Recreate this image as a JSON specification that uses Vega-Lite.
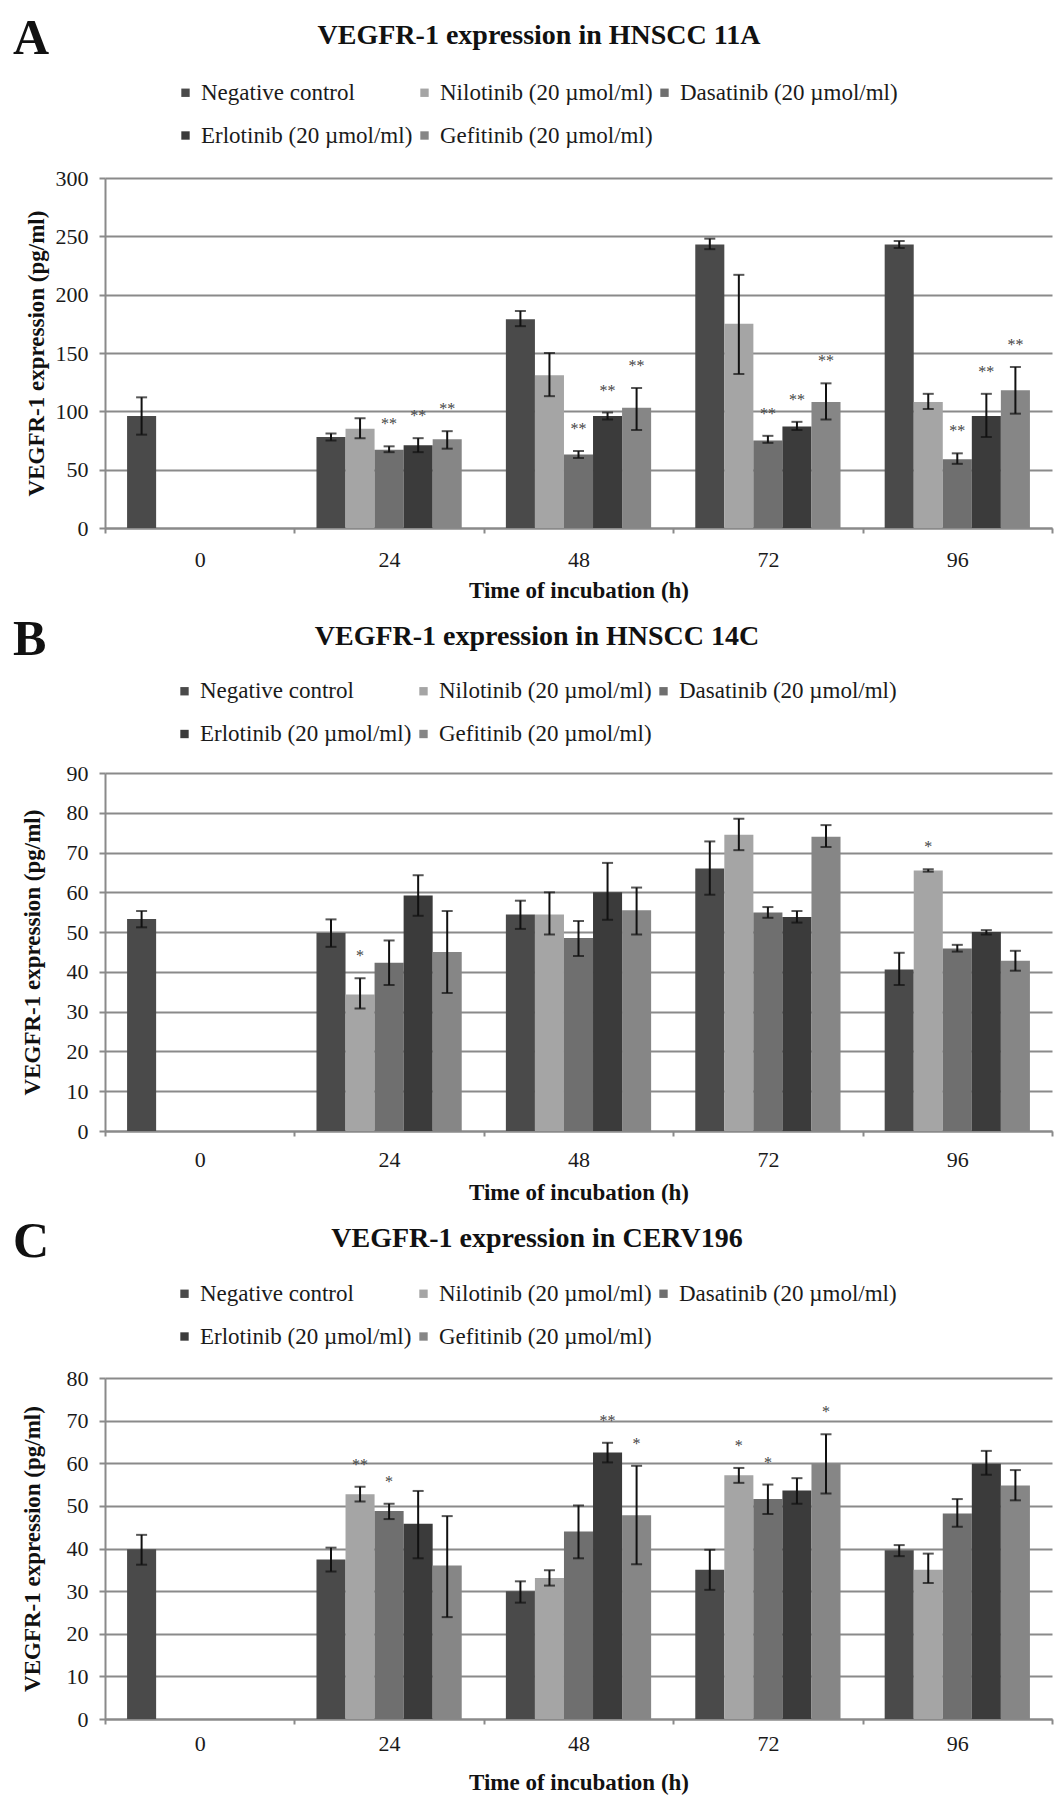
{
  "$schema": "https://vega.github.io/schema/vega-lite/v6.json",
  "padding": {"left": 13, "top": 14, "right": 5, "bottom": 5},
  "spacing": 12,
  "resolve": {"scale": {"color": "independent", "y": "independent", "x": "independent"}, "legend": {"color": "independent"}},
  "datasets": {
    "A": [
      {"time": "0", "drug": "Negative control", "value": 96, "lo": 80, "hi": 112, "sig": ""},
      {"time": "24", "drug": "Negative control", "value": 78, "lo": 75, "hi": 81, "sig": ""},
      {"time": "24", "drug": "Nilotinib (20 µmol/ml)", "value": 85, "lo": 77, "hi": 94, "sig": ""},
      {"time": "24", "drug": "Dasatinib (20 µmol/ml)", "value": 67, "lo": 65, "hi": 70, "sig": "**"},
      {"time": "24", "drug": "Erlotinib (20 µmol/ml)", "value": 71, "lo": 65, "hi": 77, "sig": "**"},
      {"time": "24", "drug": "Gefitinib (20 µmol/ml)", "value": 76, "lo": 68, "hi": 83, "sig": "**"},
      {"time": "48", "drug": "Negative control", "value": 179, "lo": 173, "hi": 186, "sig": ""},
      {"time": "48", "drug": "Nilotinib (20 µmol/ml)", "value": 131, "lo": 113, "hi": 150, "sig": ""},
      {"time": "48", "drug": "Dasatinib (20 µmol/ml)", "value": 63, "lo": 60, "hi": 66, "sig": "**"},
      {"time": "48", "drug": "Erlotinib (20 µmol/ml)", "value": 96, "lo": 93, "hi": 99, "sig": "**"},
      {"time": "48", "drug": "Gefitinib (20 µmol/ml)", "value": 103, "lo": 84, "hi": 120, "sig": "**"},
      {"time": "72", "drug": "Negative control", "value": 243, "lo": 239, "hi": 248, "sig": ""},
      {"time": "72", "drug": "Nilotinib (20 µmol/ml)", "value": 175, "lo": 132, "hi": 217, "sig": ""},
      {"time": "72", "drug": "Dasatinib (20 µmol/ml)", "value": 75, "lo": 73, "hi": 79, "sig": "**"},
      {"time": "72", "drug": "Erlotinib (20 µmol/ml)", "value": 87, "lo": 84, "hi": 91, "sig": "**"},
      {"time": "72", "drug": "Gefitinib (20 µmol/ml)", "value": 108, "lo": 93, "hi": 124, "sig": "**"},
      {"time": "96", "drug": "Negative control", "value": 243, "lo": 240, "hi": 246, "sig": ""},
      {"time": "96", "drug": "Nilotinib (20 µmol/ml)", "value": 108, "lo": 102, "hi": 115, "sig": ""},
      {"time": "96", "drug": "Dasatinib (20 µmol/ml)", "value": 59, "lo": 55, "hi": 64, "sig": "**"},
      {"time": "96", "drug": "Erlotinib (20 µmol/ml)", "value": 96, "lo": 78, "hi": 115, "sig": "**"},
      {"time": "96", "drug": "Gefitinib (20 µmol/ml)", "value": 118, "lo": 98, "hi": 138, "sig": "**"}
    ],
    "B": [
      {"time": "0", "drug": "Negative control", "value": 53.3, "lo": 51.2, "hi": 55.3, "sig": ""},
      {"time": "24", "drug": "Negative control", "value": 49.8, "lo": 46.3, "hi": 53.2, "sig": ""},
      {"time": "24", "drug": "Nilotinib (20 µmol/ml)", "value": 34.3, "lo": 30.8, "hi": 38.4, "sig": "*"},
      {"time": "24", "drug": "Dasatinib (20 µmol/ml)", "value": 42.3, "lo": 36.7, "hi": 47.9, "sig": ""},
      {"time": "24", "drug": "Erlotinib (20 µmol/ml)", "value": 59.2, "lo": 54.1, "hi": 64.3, "sig": ""},
      {"time": "24", "drug": "Gefitinib (20 µmol/ml)", "value": 45, "lo": 34.7, "hi": 55.3, "sig": ""},
      {"time": "48", "drug": "Negative control", "value": 54.4, "lo": 50.8, "hi": 57.9, "sig": ""},
      {"time": "48", "drug": "Nilotinib (20 µmol/ml)", "value": 54.4, "lo": 49.4, "hi": 60, "sig": ""},
      {"time": "48", "drug": "Dasatinib (20 µmol/ml)", "value": 48.5, "lo": 44, "hi": 52.8, "sig": ""},
      {"time": "48", "drug": "Erlotinib (20 µmol/ml)", "value": 60, "lo": 53.1, "hi": 67.4, "sig": ""},
      {"time": "48", "drug": "Gefitinib (20 µmol/ml)", "value": 55.5, "lo": 49.4, "hi": 61.2, "sig": ""},
      {"time": "72", "drug": "Negative control", "value": 66, "lo": 59.4, "hi": 72.8, "sig": ""},
      {"time": "72", "drug": "Nilotinib (20 µmol/ml)", "value": 74.5, "lo": 70.6, "hi": 78.5, "sig": ""},
      {"time": "72", "drug": "Dasatinib (20 µmol/ml)", "value": 54.9, "lo": 53.6, "hi": 56.3, "sig": ""},
      {"time": "72", "drug": "Erlotinib (20 µmol/ml)", "value": 53.8, "lo": 52.4, "hi": 55.3, "sig": ""},
      {"time": "72", "drug": "Gefitinib (20 µmol/ml)", "value": 74, "lo": 71.4, "hi": 76.9, "sig": ""},
      {"time": "96", "drug": "Negative control", "value": 40.6, "lo": 36.7, "hi": 44.8, "sig": ""},
      {"time": "96", "drug": "Nilotinib (20 µmol/ml)", "value": 65.5, "lo": 65.2, "hi": 65.8, "sig": "*"},
      {"time": "96", "drug": "Dasatinib (20 µmol/ml)", "value": 45.9, "lo": 45.1, "hi": 46.8, "sig": ""},
      {"time": "96", "drug": "Erlotinib (20 µmol/ml)", "value": 50, "lo": 49.4, "hi": 50.5, "sig": ""},
      {"time": "96", "drug": "Gefitinib (20 µmol/ml)", "value": 42.8, "lo": 40.3, "hi": 45.3, "sig": ""}
    ],
    "C": [
      {"time": "0", "drug": "Negative control", "value": 39.8, "lo": 36.2, "hi": 43.2, "sig": ""},
      {"time": "24", "drug": "Negative control", "value": 37.4, "lo": 34.6, "hi": 40.2, "sig": ""},
      {"time": "24", "drug": "Nilotinib (20 µmol/ml)", "value": 52.7, "lo": 51, "hi": 54.5, "sig": "**"},
      {"time": "24", "drug": "Dasatinib (20 µmol/ml)", "value": 48.8, "lo": 46.9, "hi": 50.5, "sig": "*"},
      {"time": "24", "drug": "Erlotinib (20 µmol/ml)", "value": 45.8, "lo": 37.7, "hi": 53.5, "sig": ""},
      {"time": "24", "drug": "Gefitinib (20 µmol/ml)", "value": 36, "lo": 23.9, "hi": 47.6, "sig": ""},
      {"time": "48", "drug": "Negative control", "value": 30, "lo": 27.3, "hi": 32.3, "sig": ""},
      {"time": "48", "drug": "Nilotinib (20 µmol/ml)", "value": 33.1, "lo": 31.3, "hi": 34.9, "sig": ""},
      {"time": "48", "drug": "Dasatinib (20 µmol/ml)", "value": 44, "lo": 37.7, "hi": 50.1, "sig": ""},
      {"time": "48", "drug": "Erlotinib (20 µmol/ml)", "value": 62.5, "lo": 60.2, "hi": 64.8, "sig": "**"},
      {"time": "48", "drug": "Gefitinib (20 µmol/ml)", "value": 47.8, "lo": 36.3, "hi": 59.4, "sig": "*"},
      {"time": "72", "drug": "Negative control", "value": 35, "lo": 30.3, "hi": 39.7, "sig": ""},
      {"time": "72", "drug": "Nilotinib (20 µmol/ml)", "value": 57.2, "lo": 55.4, "hi": 58.9, "sig": "*"},
      {"time": "72", "drug": "Dasatinib (20 µmol/ml)", "value": 51.6, "lo": 48.1, "hi": 55, "sig": "*"},
      {"time": "72", "drug": "Erlotinib (20 µmol/ml)", "value": 53.6, "lo": 50.5, "hi": 56.5, "sig": ""},
      {"time": "72", "drug": "Gefitinib (20 µmol/ml)", "value": 59.9, "lo": 52.9, "hi": 66.8, "sig": "*"},
      {"time": "96", "drug": "Negative control", "value": 39.6, "lo": 38.2, "hi": 40.8, "sig": ""},
      {"time": "96", "drug": "Nilotinib (20 µmol/ml)", "value": 35, "lo": 31.9, "hi": 38.8, "sig": ""},
      {"time": "96", "drug": "Dasatinib (20 µmol/ml)", "value": 48.2, "lo": 45.1, "hi": 51.6, "sig": ""},
      {"time": "96", "drug": "Erlotinib (20 µmol/ml)", "value": 59.9, "lo": 57.3, "hi": 62.9, "sig": ""},
      {"time": "96", "drug": "Gefitinib (20 µmol/ml)", "value": 54.8, "lo": 51.3, "hi": 58.4, "sig": ""}
    ]
  },
  "vconcat": [
    {
      "title": {"text": "A", "anchor": "start", "frame": "bounds", "fontSize": 50, "fontWeight": "bold", "dy": 42, "dx": -12, "offset": 0},
      "resolve": {"scale": {"color": "independent"}, "legend": {"color": "independent"}},
      "vconcat": [
        {
          "title": {"text": "VEGFR-1  expression in HNSCC 11A", "anchor": "middle", "frame": "bounds", "fontSize": 28, "fontWeight": "bold", "offset": 31},
          "width": 947,
          "height": 350,
          "data": {"name": "A"},
          "encoding": {
            "x": {"field": "time", "type": "ordinal", "sort": ["0", "24", "48", "72", "96"], "scale": {"paddingInner": 0, "paddingOuter": 0}, "axis": {"title": "Time of incubation (h)", "labelAngle": 0, "tickBand": "extent", "tickSize": 5, "labelPadding": 16, "titlePadding": 9, "grid": false}},
            "xOffset": {"field": "drug", "type": "nominal", "scale": {"domain": ["Negative control", "Nilotinib (20 µmol/ml)", "Dasatinib (20 µmol/ml)", "Erlotinib (20 µmol/ml)", "Gefitinib (20 µmol/ml)"], "paddingInner": 0, "paddingOuter": 0.76}}
          },
          "layer": [
            {
              "mark": {"type": "bar"},
              "encoding": {
                "y": {"field": "value", "type": "quantitative", "title": "VEGFR-1 expression (pg/ml)", "scale": {"domain": [0, 300]}, "axis": {"values": [0, 50, 100, 150, 200, 250, 300], "tickSize": 6, "labelPadding": 11, "titlePadding": 7, "grid": true}},
                "color": {"field": "drug", "type": "nominal", "scale": {"domain": ["Negative control", "Nilotinib (20 µmol/ml)", "Dasatinib (20 µmol/ml)", "Erlotinib (20 µmol/ml)", "Gefitinib (20 µmol/ml)"], "range": ["#4a4a4a", "#a5a5a5", "#6f6f6f", "#3b3b3b", "#868686"]}, "legend": {"orient": "none", "legendX": 69, "legendY": -97, "direction": "horizontal", "columns": 3, "title": null}}
              }
            },
            {
              "mark": {"type": "rule", "color": "#111111", "strokeWidth": 2},
              "encoding": {"y": {"field": "lo", "type": "quantitative", "title": "VEGFR-1 expression (pg/ml)", "axis": {"values": [0, 50, 100, 150, 200, 250, 300], "tickSize": 6, "labelPadding": 11, "titlePadding": 7, "grid": true}}, "y2": {"field": "hi"}}
            },
            {
              "mark": {"type": "tick", "color": "#111111", "thickness": 2, "size": 11, "orient": "horizontal"},
              "encoding": {"y": {"field": "lo", "type": "quantitative", "title": "VEGFR-1 expression (pg/ml)", "axis": {"values": [0, 50, 100, 150, 200, 250, 300], "tickSize": 6, "labelPadding": 11, "titlePadding": 7, "grid": true}}}
            },
            {
              "mark": {"type": "tick", "color": "#111111", "thickness": 2, "size": 11, "orient": "horizontal"},
              "encoding": {"y": {"field": "hi", "type": "quantitative", "title": "VEGFR-1 expression (pg/ml)", "axis": {"values": [0, 50, 100, 150, 200, 250, 300], "tickSize": 6, "labelPadding": 11, "titlePadding": 7, "grid": true}}}
            },
            {
              "transform": [{"filter": "datum.sig != ''"}],
              "mark": {"type": "text", "dy": -17, "fontSize": 16, "color": "#444444", "baseline": "alphabetic"},
              "encoding": {"y": {"field": "hi", "type": "quantitative", "title": "VEGFR-1 expression (pg/ml)", "axis": {"values": [0, 50, 100, 150, 200, 250, 300], "tickSize": 6, "labelPadding": 11, "titlePadding": 7, "grid": true}}, "text": {"field": "sig"}}
            }
          ]
        }
      ]
    },
    {
      "title": {"text": "B", "anchor": "start", "frame": "bounds", "fontSize": 50, "fontWeight": "bold", "dy": 42, "dx": -8, "offset": 0},
      "resolve": {"scale": {"color": "independent"}, "legend": {"color": "independent"}},
      "vconcat": [
        {
          "title": {"text": "VEGFR-1  expression in HNSCC 14C", "anchor": "middle", "frame": "bounds", "fontSize": 28, "fontWeight": "bold", "offset": 29},
          "width": 947,
          "height": 358,
          "data": {"name": "B"},
          "encoding": {
            "x": {"field": "time", "type": "ordinal", "sort": ["0", "24", "48", "72", "96"], "scale": {"paddingInner": 0, "paddingOuter": 0}, "axis": {"title": "Time of incubation (h)", "labelAngle": 0, "tickBand": "extent", "tickSize": 5, "labelPadding": 13.5, "titlePadding": 11, "grid": false}},
            "xOffset": {"field": "drug", "type": "nominal", "scale": {"domain": ["Negative control", "Nilotinib (20 µmol/ml)", "Dasatinib (20 µmol/ml)", "Erlotinib (20 µmol/ml)", "Gefitinib (20 µmol/ml)"], "paddingInner": 0, "paddingOuter": 0.76}}
          },
          "layer": [
            {
              "mark": {"type": "bar"},
              "encoding": {
                "y": {"field": "value", "type": "quantitative", "title": "VEGFR-1 expression (pg/ml)", "scale": {"domain": [0, 90]}, "axis": {"values": [0, 10, 20, 30, 40, 50, 60, 70, 80, 90], "tickSize": 6, "labelPadding": 11, "titlePadding": 22, "grid": true}},
                "color": {"field": "drug", "type": "nominal", "scale": {"domain": ["Negative control", "Nilotinib (20 µmol/ml)", "Dasatinib (20 µmol/ml)", "Erlotinib (20 µmol/ml)", "Gefitinib (20 µmol/ml)"], "range": ["#4a4a4a", "#a5a5a5", "#6f6f6f", "#3b3b3b", "#868686"]}, "legend": {"orient": "none", "legendX": 68, "legendY": -93.5, "direction": "horizontal", "columns": 3, "title": null}}
              }
            },
            {
              "mark": {"type": "rule", "color": "#111111", "strokeWidth": 2},
              "encoding": {"y": {"field": "lo", "type": "quantitative", "title": "VEGFR-1 expression (pg/ml)", "axis": {"values": [0, 10, 20, 30, 40, 50, 60, 70, 80, 90], "tickSize": 6, "labelPadding": 11, "titlePadding": 22, "grid": true}}, "y2": {"field": "hi"}}
            },
            {
              "mark": {"type": "tick", "color": "#111111", "thickness": 2, "size": 11, "orient": "horizontal"},
              "encoding": {"y": {"field": "lo", "type": "quantitative", "title": "VEGFR-1 expression (pg/ml)", "axis": {"values": [0, 10, 20, 30, 40, 50, 60, 70, 80, 90], "tickSize": 6, "labelPadding": 11, "titlePadding": 22, "grid": true}}}
            },
            {
              "mark": {"type": "tick", "color": "#111111", "thickness": 2, "size": 11, "orient": "horizontal"},
              "encoding": {"y": {"field": "hi", "type": "quantitative", "title": "VEGFR-1 expression (pg/ml)", "axis": {"values": [0, 10, 20, 30, 40, 50, 60, 70, 80, 90], "tickSize": 6, "labelPadding": 11, "titlePadding": 22, "grid": true}}}
            },
            {
              "transform": [{"filter": "datum.sig != ''"}],
              "mark": {"type": "text", "dy": -17, "fontSize": 16, "color": "#444444", "baseline": "alphabetic"},
              "encoding": {"y": {"field": "hi", "type": "quantitative", "title": "VEGFR-1 expression (pg/ml)", "axis": {"values": [0, 10, 20, 30, 40, 50, 60, 70, 80, 90], "tickSize": 6, "labelPadding": 11, "titlePadding": 22, "grid": true}}, "text": {"field": "sig"}}
            }
          ]
        }
      ]
    },
    {
      "title": {"text": "C", "anchor": "start", "frame": "bounds", "fontSize": 50, "fontWeight": "bold", "dy": 42, "dx": -8, "offset": 0},
      "resolve": {"scale": {"color": "independent"}, "legend": {"color": "independent"}},
      "vconcat": [
        {
          "title": {"text": "VEGFR-1  expression in CERV196", "anchor": "middle", "frame": "bounds", "fontSize": 28, "fontWeight": "bold", "offset": 28.6},
          "width": 947,
          "height": 341,
          "data": {"name": "C"},
          "encoding": {
            "x": {"field": "time", "type": "ordinal", "sort": ["0", "24", "48", "72", "96"], "scale": {"paddingInner": 0, "paddingOuter": 0}, "axis": {"title": "Time of incubation (h)", "labelAngle": 0, "tickBand": "extent", "tickSize": 5, "labelPadding": 9, "titlePadding": 17, "grid": false}},
            "xOffset": {"field": "drug", "type": "nominal", "scale": {"domain": ["Negative control", "Nilotinib (20 µmol/ml)", "Dasatinib (20 µmol/ml)", "Erlotinib (20 µmol/ml)", "Gefitinib (20 µmol/ml)"], "paddingInner": 0, "paddingOuter": 0.76}}
          },
          "layer": [
            {
              "mark": {"type": "bar"},
              "encoding": {
                "y": {"field": "value", "type": "quantitative", "title": "VEGFR-1 expression (pg/ml)", "scale": {"domain": [0, 80]}, "axis": {"values": [0, 10, 20, 30, 40, 50, 60, 70, 80], "tickSize": 6, "labelPadding": 11, "titlePadding": 22, "grid": true}},
                "color": {"field": "drug", "type": "nominal", "scale": {"domain": ["Negative control", "Nilotinib (20 µmol/ml)", "Dasatinib (20 µmol/ml)", "Erlotinib (20 µmol/ml)", "Gefitinib (20 µmol/ml)"], "range": ["#4a4a4a", "#a5a5a5", "#6f6f6f", "#3b3b3b", "#868686"]}, "legend": {"orient": "none", "legendX": 68, "legendY": -96, "direction": "horizontal", "columns": 3, "title": null}}
              }
            },
            {
              "mark": {"type": "rule", "color": "#111111", "strokeWidth": 2},
              "encoding": {"y": {"field": "lo", "type": "quantitative", "title": "VEGFR-1 expression (pg/ml)", "axis": {"values": [0, 10, 20, 30, 40, 50, 60, 70, 80], "tickSize": 6, "labelPadding": 11, "titlePadding": 22, "grid": true}}, "y2": {"field": "hi"}}
            },
            {
              "mark": {"type": "tick", "color": "#111111", "thickness": 2, "size": 11, "orient": "horizontal"},
              "encoding": {"y": {"field": "lo", "type": "quantitative", "title": "VEGFR-1 expression (pg/ml)", "axis": {"values": [0, 10, 20, 30, 40, 50, 60, 70, 80], "tickSize": 6, "labelPadding": 11, "titlePadding": 22, "grid": true}}}
            },
            {
              "mark": {"type": "tick", "color": "#111111", "thickness": 2, "size": 11, "orient": "horizontal"},
              "encoding": {"y": {"field": "hi", "type": "quantitative", "title": "VEGFR-1 expression (pg/ml)", "axis": {"values": [0, 10, 20, 30, 40, 50, 60, 70, 80], "tickSize": 6, "labelPadding": 11, "titlePadding": 22, "grid": true}}}
            },
            {
              "transform": [{"filter": "datum.sig != ''"}],
              "mark": {"type": "text", "dy": -17, "fontSize": 16, "color": "#444444", "baseline": "alphabetic"},
              "encoding": {"y": {"field": "hi", "type": "quantitative", "title": "VEGFR-1 expression (pg/ml)", "axis": {"values": [0, 10, 20, 30, 40, 50, 60, 70, 80], "tickSize": 6, "labelPadding": 11, "titlePadding": 22, "grid": true}}, "text": {"field": "sig"}}
            }
          ]
        }
      ]
    }
  ],
  "config": {
    "font": "Liberation Serif",
    "background": "#ffffff",
    "view": {"stroke": null},
    "title": {"font": "Liberation Serif", "color": "#111111"},
    "axis": {
      "labelFont": "Liberation Serif", "titleFont": "Liberation Serif",
      "labelColor": "#1a1a1a", "titleColor": "#111111",
      "labelFontSize": 22, "titleFontSize": 23, "titleFontWeight": "bold",
      "domainColor": "#8a8a8a", "domainWidth": 2,
      "tickColor": "#8a8a8a", "tickWidth": 2,
      "gridColor": "#8a8a8a", "gridWidth": 2
    },
    "legend": {
      "labelFont": "Liberation Serif", "labelFontSize": 23, "labelColor": "#1a1a1a",
      "labelLimit": 500, "labelOffset": 4,
      "symbolType": "square", "symbolSize": 70, "symbolStrokeWidth": 0,
      "columnPadding": -4, "rowPadding": 19, "gridAlign": "each"
    }
  }
}
